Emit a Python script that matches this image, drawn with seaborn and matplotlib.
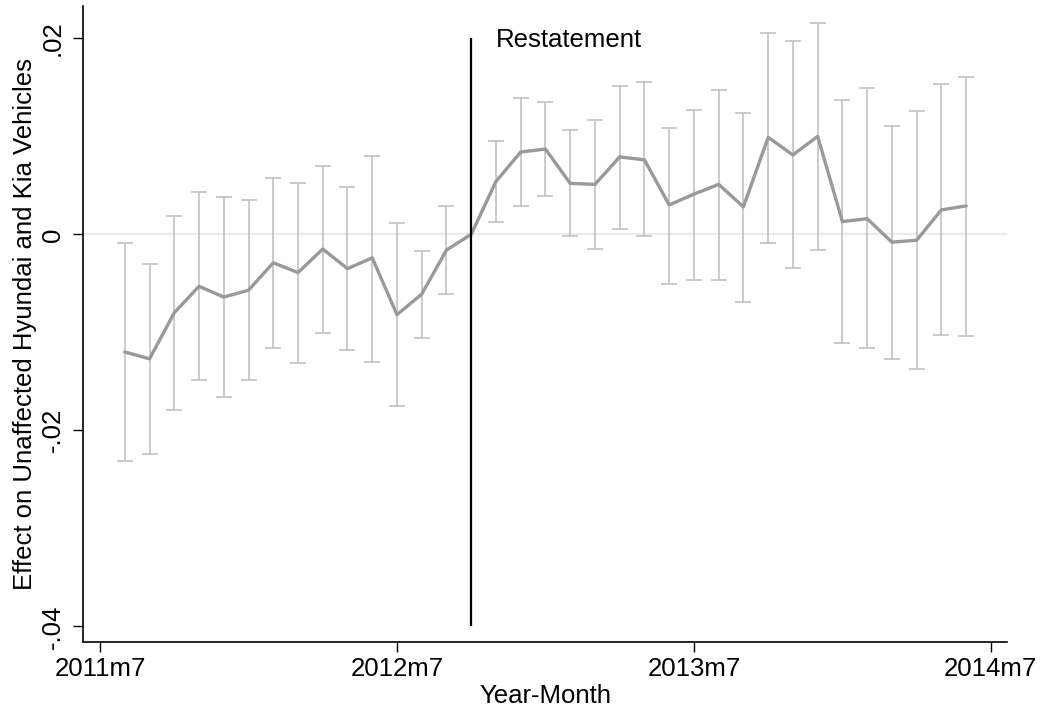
import matplotlib
matplotlib.use("Agg")
import matplotlib.pyplot as plt
import numpy as np
import pandas as pd
import seaborn as sns

# Data (event-study coefficients with 95% CIs)
months = ['2011m8', '2011m9', '2011m10', '2011m11', '2011m12',
          '2012m1', '2012m2', '2012m3', '2012m4', '2012m5', '2012m6',
          '2012m7', '2012m8', '2012m9', '2012m10', '2012m11', '2012m12',
          '2013m1', '2013m2', '2013m3', '2013m4', '2013m5', '2013m6',
          '2013m7', '2013m8', '2013m9', '2013m10', '2013m11', '2013m12',
          '2014m1', '2014m2', '2014m3', '2014m4', '2014m5', '2014m6']
coef = [-0.0120, -0.0127, -0.0080, -0.0053, -0.0064, -0.0057, -0.0029,
        -0.0039, -0.0015, -0.0035, -0.0024, -0.0082, -0.0061, -0.0016,
        0.0, 0.0054, 0.0084, 0.0087, 0.0052, 0.0051, 0.0079, 0.0076,
        0.0030, 0.0041, 0.0051, 0.0028, 0.0099, 0.0081, 0.0100, 0.0013,
        0.0016, -0.0008, -0.0006, 0.0025, 0.0029]
ci_hi = [-0.0009, -0.0030, 0.0019, 0.0043, 0.0038, 0.0035, 0.0057,
         0.0052, 0.0070, 0.0048, 0.0080, 0.0012, -0.0017, 0.0029,
         np.nan, 0.0095, 0.0139, 0.0135, 0.0106, 0.0117, 0.0151, 0.0155,
         0.0109, 0.0127, 0.0147, 0.0124, 0.0205, 0.0197, 0.0216, 0.0137,
         0.0149, 0.0111, 0.0126, 0.0153, 0.0161]
ci_lo = [-0.0231, -0.0224, -0.0179, -0.0149, -0.0166, -0.0149, -0.0116,
         -0.0131, -0.0101, -0.0118, -0.0130, -0.0175, -0.0106, -0.0061,
         np.nan, 0.0013, 0.0029, 0.0039, -0.0002, -0.0015, 0.0005, -0.0002,
         -0.0051, -0.0047, -0.0047, -0.0069, -0.0009, -0.0034, -0.0016, -0.0111,
         -0.0116, -0.0127, -0.0137, -0.0103, -0.0104]
tick_labels = ['2011m7', '2012m7', '2013m7', '2014m7']
event_month = '2012m10'


def month_index(s):
    # months since 2011m7
    y, m = s.split('m')
    return (int(y) - 2011) * 12 + int(m) - 7


df = pd.DataFrame({'month': months, 'coef': coef, 'hi': ci_hi, 'lo': ci_lo})
df['x'] = df['month'].apply(month_index)

sns.set_theme(style="white")
plt.rcParams['font.family'] = ['Liberation Sans', 'DejaVu Sans']
plt.rcParams['text.color'] = 'black'
plt.rcParams['axes.labelcolor'] = 'black'
plt.rcParams['xtick.color'] = 'black'
plt.rcParams['ytick.color'] = 'black'

fig = plt.figure(figsize=(10.41, 7.14), dpi=100)
ax = fig.add_axes([0.0797, 0.1008, 0.8876, 0.8908])

ax.axhline(0, color='#ebebeb', lw=1.6, zorder=0)

ci = df.dropna()
ax.errorbar(ci['x'], ci['coef'],
            yerr=[ci['coef'] - ci['lo'], ci['hi'] - ci['coef']],
            fmt='none', ecolor='#bdbdbd', elinewidth=1.1, capsize=6,
            capthick=1.1, zorder=1)

sns.lineplot(data=df, x='x', y='coef', color='#999999', lw=2.4, ax=ax,
             zorder=2)

ex = month_index(event_month)
ax.vlines(ex, -0.04, 0.02, color='black', lw=1.6, zorder=3)
ax.text(ex + 1, 0.0198, 'Restatement', fontsize=18.5, ha='left',
        va='center')

ax.set_xlim(-0.69, 36.65)
ax.set_ylim(-0.0416, 0.0233)
ax.set_xticks([month_index(t) for t in tick_labels])
ax.set_xticklabels(tick_labels, fontsize=18.5)
yt = [-0.04, -0.02, 0, 0.02]
ax.set_yticks(yt)
ax.set_yticklabels(['-.04', '-.02', '0', '.02'], fontsize=18.5,
                   rotation=90, va='center')

ax.set_xlabel('Year-Month', fontsize=18.5, labelpad=2)
ax.set_ylabel('Effect on Unaffected Hyundai and Kia Vehicles',
              fontsize=18.5, labelpad=3)

for s in ['top', 'right']:
    ax.spines[s].set_visible(False)
for s in ['left', 'bottom']:
    ax.spines[s].set_color('black')
    ax.spines[s].set_linewidth(1.2)
ax.tick_params(axis='both', direction='out', length=7, width=1.0,
               color='black', left=True, bottom=True, pad=4)
ax.tick_params(axis='y', pad=6)
ax.grid(False)

fig.savefig('out.png', dpi=100)
